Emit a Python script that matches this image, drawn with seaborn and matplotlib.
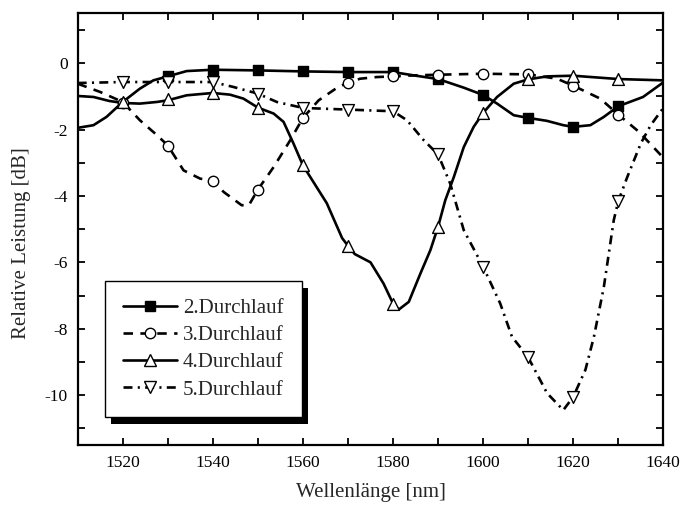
import matplotlib
matplotlib.use("Agg")
import matplotlib.pyplot as plt
import seaborn as sns
from matplotlib.lines import Line2D
from matplotlib.patches import Rectangle
from matplotlib.transforms import IdentityTransform
from matplotlib.ticker import MultipleLocator

# ---------------- data ----------------
labels = ["2.Durchlauf", "3.Durchlauf", "4.Durchlauf", "5.Durchlauf"]

# curves (dense readings)
s2_line_x = [1510, 1513.5, 1516.4, 1520, 1523.8, 1526.8, 1530, 1534.2, 1540, 1550, 1560, 1570,
             1580, 1584.6, 1590, 1595.7, 1600, 1603.1, 1606.8, 1610, 1614.2, 1617.8, 1620,
             1623.8, 1626.8, 1630, 1635.5, 1640]
s2_line_y = [-1.95, -1.87, -1.62, -1.17, -0.77, -0.52, -0.40, -0.24, -0.20, -0.22, -0.25, -0.27,
             -0.27, -0.37, -0.48, -0.74, -0.96, -1.22, -1.57, -1.65, -1.74, -1.87, -1.92,
             -1.87, -1.62, -1.30, -1.02, -0.58]

s3_line_x = [1510, 1515, 1520, 1523.8, 1527.6, 1530, 1533.5, 1537.2, 1540, 1542.4, 1546.4, 1548,
             1550, 1553.5, 1557.2, 1560, 1563.5, 1567.6, 1570, 1572.7, 1576.4, 1580, 1584.6,
             1590, 1600, 1610, 1616.4, 1620, 1626, 1630, 1634.6, 1640]
s3_line_y = [-0.62, -0.87, -1.17, -1.72, -2.17, -2.48, -3.23, -3.48, -3.54, -3.88, -4.28, -4.28,
             -3.81, -3.13, -2.32, -1.65, -1.12, -0.74, -0.59, -0.47, -0.42, -0.40, -0.37,
             -0.35, -0.32, -0.34, -0.47, -0.68, -1.07, -1.55, -2.07, -2.85]

s4_line_x = [1510, 1513.5, 1517, 1520, 1523.8, 1527.6, 1530, 1534.2, 1540, 1543.8, 1546.8, 1550,
             1553.5, 1555.7, 1557.9, 1560, 1565.3, 1568.7, 1570, 1571.5, 1575, 1577.9, 1580,
             1581.3, 1583.5, 1586.1, 1588.3, 1590, 1591.6, 1593.5, 1595.7, 1597.9, 1600,
             1603.1, 1606.8, 1610, 1614.2, 1620, 1630, 1640]
s4_line_y = [-0.99, -1.02, -1.14, -1.20, -1.22, -1.17, -1.12, -0.97, -0.90, -0.95, -1.07, -1.34,
             -1.52, -1.77, -2.42, -3.08, -4.22, -5.27, -5.50, -5.75, -6.00, -6.64, -7.24,
             -7.42, -7.19, -6.33, -5.63, -4.93, -4.13, -3.43, -2.53, -1.92, -1.50,
             -1.02, -0.62, -0.49, -0.40, -0.38, -0.48, -0.52]

s5_line_x = [1510, 1520, 1530, 1540, 1544.6, 1550, 1554.2, 1560, 1570, 1580, 1583.1, 1586.8,
             1590, 1592.7, 1595.7, 1600, 1603.8, 1606.4, 1610, 1614.2, 1617.8, 1620, 1622.7,
             1624.6, 1626.8, 1629, 1630, 1632, 1635, 1637.2, 1640]
s5_line_y = [-0.60, -0.57, -0.57, -0.57, -0.72, -0.92, -1.17, -1.35, -1.40, -1.45, -1.72, -2.32,
             -2.75, -3.63, -5.03, -6.13, -7.24, -8.24, -8.86, -9.94, -10.45, -10.05, -9.24,
             -8.24, -6.74, -4.73, -4.16, -3.43, -2.42, -1.87, -1.35]

# symbols (every 10 nm)
s2_mark_x = [1530, 1540, 1550, 1560, 1570, 1580, 1590, 1600, 1610, 1620, 1630]
s2_mark_y = [-0.40, -0.20, -0.22, -0.25, -0.27, -0.27, -0.48, -0.96, -1.65, -1.92, -1.30]

s3_mark_x = [1520, 1530, 1540, 1550, 1560, 1570, 1580, 1590, 1600, 1610, 1620, 1630]
s3_mark_y = [-1.20, -2.50, -3.54, -3.81, -1.65, -0.59, -0.40, -0.35, -0.32, -0.34, -0.68, -1.55]

s4_mark_x = [1520, 1530, 1540, 1550, 1560, 1570, 1580, 1590, 1600, 1610, 1620, 1630]
s4_mark_y = [-1.17, -1.09, -0.89, -1.34, -3.08, -5.50, -7.24, -4.93, -1.50, -0.49, -0.38, -0.48]

s5_mark_x = [1520, 1530, 1540, 1550, 1560, 1570, 1580, 1590, 1600, 1610, 1620, 1630]
s5_mark_y = [-0.57, -0.57, -0.57, -0.92, -1.35, -1.40, -1.45, -2.75, -6.13, -8.86, -10.05, -4.16]

# ---------------- style ----------------
sns.set_theme(style="ticks")
plt.rcParams["font.family"] = ["Liberation Serif", "DejaVu Serif"]
plt.rcParams["axes.unicode_minus"] = False
plt.rcParams["axes.linewidth"] = 1.6
plt.rcParams["axes.edgecolor"] = "black"

fig = plt.figure(figsize=(6.82, 5.07), dpi=100)
ax = fig.add_axes([0.1139, 0.1223, 0.8587, 0.8515])

LW = 1.9
styles = [
    dict(ls="-", marker="s", ms=7, fc="black"),
    dict(ls=(0, (3.6, 2.8)), marker="o", ms=7.5, fc="white"),
    dict(ls="-", marker="^", ms=8.5, fc="white"),
    dict(ls=(0, (3.4, 2.0, 0.8, 2.0)), marker="v", ms=8.5, fc="white"),
]
lines = [(s2_line_x, s2_line_y), (s3_line_x, s3_line_y), (s4_line_x, s4_line_y), (s5_line_x, s5_line_y)]
marks = [(s2_mark_x, s2_mark_y), (s3_mark_x, s3_mark_y), (s4_mark_x, s4_mark_y), (s5_mark_x, s5_mark_y)]

for (lx, ly), st in zip(lines, styles):
    sns.lineplot(x=lx, y=ly, ax=ax, color="black", linewidth=LW, linestyle=st["ls"],
                 sort=False, estimator=None)
for (mx, my), st in zip(marks, styles):
    sns.scatterplot(x=mx, y=my, ax=ax, marker=st["marker"], s=st["ms"] ** 2,
                    color=st["fc"], edgecolor="black", linewidth=1.0, zorder=3)

ax.set_xlim(1510, 1640)
ax.set_ylim(-11.5, 1.5)
ax.xaxis.set_major_locator(MultipleLocator(20))
ax.xaxis.set_minor_locator(MultipleLocator(10))
ax.set_yticks([-10, -8, -6, -4, -2, 0])
ax.yaxis.set_minor_locator(MultipleLocator(1))
ax.tick_params(which="both", direction="in", top=True, right=True, length=5, width=1.3,
               colors="black", labelsize=12.5, pad=7)
ax.grid(False)

ax.set_xlabel("Wellenlänge [nm]", fontsize=15, labelpad=9)
ax.set_ylabel("Relative Leistung [dB]", fontsize=15)
ax.yaxis.set_label_coords(-0.080, 0.468)

handles = [Line2D([], [], color="black", lw=LW, ls=st["ls"], marker=st["marker"], ms=st["ms"],
                  mfc=st["fc"], mec="black", mew=1.0) for st in styles]
leg = ax.legend(handles, labels, loc="lower left", bbox_to_anchor=(0.0466, 0.0642),
                borderaxespad=0, frameon=True, fancybox=False, edgecolor="black",
                framealpha=1, fontsize=15, handlelength=2.6, handletextpad=0.3,
                labelspacing=0.36, borderpad=0.85)
leg.get_frame().set_linewidth(1.0)

fig.canvas.draw()
bb = leg.get_window_extent()
shadow = Rectangle((bb.x0 + 6, bb.y0 - 7), bb.width, bb.height, transform=IdentityTransform(),
                   facecolor="black", edgecolor="none", zorder=leg.get_zorder() - 0.5,
                   clip_on=False)
ax.add_artist(shadow)

fig.savefig("out.png", dpi=100)
